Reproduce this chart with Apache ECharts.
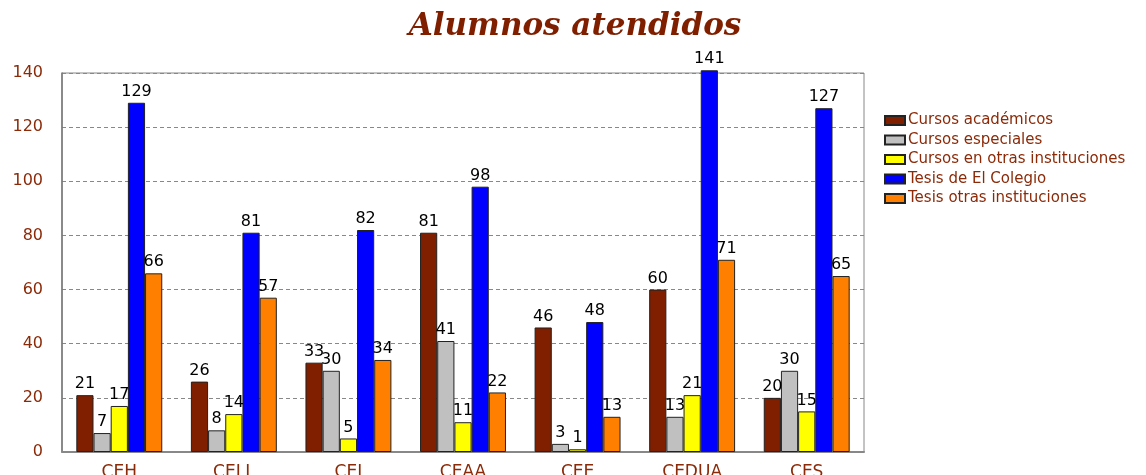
<!DOCTYPE html>
<html>
<head>
<meta charset="utf-8">
<script src="https://cdn.jsdelivr.net/npm/echarts@6/dist/echarts.min.js"></script>
<style>
  html, body { margin: 0; padding: 0; background: #fff; }
  #container { width: 1146px; height: 475px; }
</style>
</head>
<body>
<div id="container"></div>
<script>
var myChart = echarts.init(document.getElementById('container'));

var categories = ['CEH', 'CELL', 'CEI', 'CEAA', 'CEE', 'CEDUA', 'CES'];
var seriesNames = ['Cursos académicos', 'Cursos especiales', 'Cursos en otras instituciones', 'Tesis de El Colegio', 'Tesis otras instituciones'];
var cursosAcademicos = [21, 26, 33, 81, 46, 60, 20];
var cursosEspeciales = [7, 8, 30, 41, 3, 13, 30];
var cursosOtras = [17, 14, 5, 11, 1, 21, 15];
var tesisColegio = [129, 81, 82, 98, 48, 141, 127];
var tesisOtras = [66, 57, 34, 22, 13, 71, 65];
var colors = ['#7f1f00', '#c0c0c0', '#ffff00', '#0000ff', '#ff8000'];

var allData = [cursosAcademicos, cursosEspeciales, cursosOtras, tesisColegio, tesisOtras];
var darkRed = '#8b2a08';
var sans = 'DejaVu Sans';

var series = allData.map(function (d, i) {
  return {
    name: seriesNames[i],
    type: 'bar',
    data: d,
    clip: false,
    barGap: '0%',
    barCategoryGap: '25%',
    itemStyle: { color: colors[i], borderColor: '#222', borderWidth: 1 },
    label: {
      show: true,
      position: 'top',
      distance: 3,
      color: '#000',
      fontSize: 16,
      fontFamily: sans
    }
  };
});

var option = {
  backgroundColor: '#fff',
  animation: false,
  title: {
    text: 'Alumnos atendidos',
    left: 570,
    textAlign: 'center',
    top: 6,
    textStyle: {
      color: '#7f1f00',
      fontSize: 31,
      fontStyle: 'italic',
      fontWeight: 'bold',
      fontFamily: 'DejaVu Serif'
    }
  },
  legend: {
    orient: 'vertical',
    left: 884,
    top: 113,
    padding: 0,
    itemWidth: 20,
    itemHeight: 9,
    itemGap: 4.5,
    icon: 'rect',
    textStyle: { color: darkRed, fontSize: 15, fontFamily: sans, padding: [0, 0, 0, -2] },
    data: seriesNames
  },
  grid: {
    left: 62,
    right: 282,
    top: 73,
    bottom: 23,
    outerBoundsMode: 'none',
    show: true,
    borderColor: '#888',
    borderWidth: 1
  },
  xAxis: {
    type: 'category',
    data: categories,
    axisTick: { show: false },
    axisLine: { lineStyle: { color: '#888', width: 2 } },
    axisLabel: { color: darkRed, fontSize: 17, fontFamily: sans, margin: 12 }
  },
  yAxis: {
    type: 'value',
    min: 0,
    max: 140,
    interval: 20,
    axisLine: { show: true, lineStyle: { color: '#777', width: 1.5 } },
    axisTick: { show: false },
    axisLabel: { color: darkRed, fontSize: 16, fontFamily: sans, margin: 19 },
    splitLine: { lineStyle: { color: '#888', type: [4, 3] } }
  },
  series: series
};

myChart.setOption(option);
</script>
</body>
</html>
